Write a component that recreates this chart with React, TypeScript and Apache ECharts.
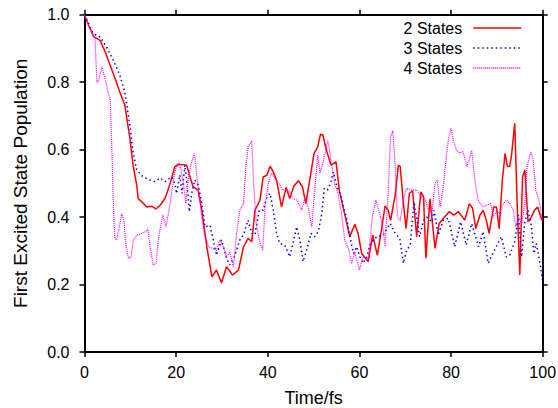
import React, { useEffect, useRef } from "react";
import * as echarts from "echarts";

const seriesNames = ["2 States", "3 States", "4 States"];
const seriesColors = ["#ff0000", "#0000ff", "#ff00ff"];

const t2 = [0, 1, 2, 3.4, 4.5, 5.6, 6.7, 7.7, 8.8, 9.9, 10.6, 11.4, 11.7, 12.5, 13.6, 14.7, 15.6, 16.5, 17.6, 18.7, 19.7, 20.5, 22.3, 23.0, 23.7, 24.8, 25.6, 26.7, 27.8, 28.8, 29.9, 31.0, 32.3, 33.6, 34.7, 35.7, 36.5, 37.2, 38.3, 39.0, 39.8, 40.5, 41.2, 41.9, 43.0, 44.0, 44.8, 45.7, 46.7, 47.6, 48.3, 49.2, 50.1, 50.9, 51.5, 52.0, 52.8, 53.8, 54.9, 55.6, 56.6, 57.9, 59.0, 59.7, 60.5, 61.9, 62.9, 63.9, 64.8, 65.6, 66.3, 66.8, 67.8, 68.5, 68.9, 69.6, 70.2, 70.9, 71.6, 72.5, 73.4, 74.0, 74.5, 75.4, 76.5, 77.4, 78.3, 79.6, 80.6, 81.6, 83.0, 84.0, 84.7, 85.4, 86.3, 87.0, 87.7, 88.3, 89.3, 89.9, 90.5, 91.2, 91.8, 92.3, 92.8, 93.2, 93.9, 94.4, 95.0, 95.6, 96.1, 96.8, 97.5, 98.2, 98.9, 99.8, 100];
const p2 = [1.0, 0.965, 0.935, 0.924, 0.89, 0.85, 0.81, 0.771, 0.732, 0.634, 0.554, 0.495, 0.455, 0.445, 0.43, 0.432, 0.424, 0.435, 0.456, 0.5, 0.549, 0.557, 0.554, 0.52, 0.49, 0.48, 0.42, 0.312, 0.223, 0.243, 0.205, 0.253, 0.228, 0.243, 0.312, 0.337, 0.327, 0.42, 0.45, 0.519, 0.524, 0.551, 0.534, 0.51, 0.43, 0.488, 0.455, 0.492, 0.508, 0.488, 0.44, 0.514, 0.589, 0.608, 0.646, 0.644, 0.598, 0.554, 0.564, 0.48, 0.42, 0.342, 0.379, 0.352, 0.292, 0.268, 0.347, 0.287, 0.361, 0.433, 0.42, 0.39, 0.465, 0.554, 0.55, 0.44, 0.366, 0.47, 0.478, 0.342, 0.475, 0.46, 0.278, 0.454, 0.307, 0.381, 0.396, 0.416, 0.406, 0.416, 0.391, 0.44, 0.426, 0.366, 0.406, 0.42, 0.39, 0.352, 0.43, 0.43, 0.366, 0.51, 0.589, 0.55, 0.55, 0.584, 0.678, 0.45, 0.228, 0.519, 0.54, 0.386, 0.4, 0.42, 0.43, 0.391, 0.4];

const t3 = [0, 1.9, 3.4, 4.8, 6.3, 7.7, 8.8, 9.9, 10.6, 11.4, 12.8, 14.3, 15.4, 16.5, 17.6, 19.0, 19.7, 20.1, 20.8, 21.3, 21.9, 22.3, 22.9, 23.4, 24.1, 24.8, 25.6, 26.3, 27.4, 28.1, 28.8, 29.9, 31.0, 31.7, 32.7, 33.9, 34.7, 35.7, 36.5, 37.2, 38.1, 39.0, 39.8, 40.5, 41.2, 41.9, 42.6, 43.7, 44.8, 45.5, 46.3, 47.0, 47.7, 48.6, 49.4, 50.3, 51.0, 51.8, 52.3, 53.0, 53.7, 54.3, 55.1, 55.9, 56.5, 57.2, 58.0, 58.7, 59.4, 60.1, 60.8, 61.6, 62.4, 63.8, 65.2, 66.7, 67.8, 68.8, 69.6, 70.3, 71.1, 71.9, 72.5, 73.1, 74.0, 74.7, 75.8, 76.3, 77.2, 78.3, 79.4, 80.8, 82.1, 83.3, 84.5, 86.0, 87.0, 88.1, 89.3, 91.0, 92.0, 92.8, 93.9, 94.7, 95.4, 96.1, 96.8, 97.5, 98.1, 98.6, 99.4, 100];
const p3 = [1.0, 0.944, 0.934, 0.905, 0.865, 0.821, 0.771, 0.673, 0.593, 0.539, 0.519, 0.51, 0.505, 0.516, 0.505, 0.519, 0.5, 0.47, 0.525, 0.47, 0.554, 0.51, 0.416, 0.47, 0.51, 0.495, 0.44, 0.371, 0.376, 0.332, 0.287, 0.332, 0.278, 0.258, 0.282, 0.332, 0.347, 0.391, 0.352, 0.347, 0.42, 0.42, 0.46, 0.47, 0.42, 0.352, 0.322, 0.317, 0.282, 0.322, 0.371, 0.332, 0.268, 0.307, 0.352, 0.342, 0.357, 0.41, 0.485, 0.48, 0.5, 0.534, 0.49, 0.465, 0.43, 0.396, 0.337, 0.292, 0.312, 0.282, 0.263, 0.282, 0.322, 0.342, 0.347, 0.381, 0.352, 0.337, 0.263, 0.302, 0.317, 0.445, 0.4, 0.342, 0.39, 0.4, 0.386, 0.42, 0.347, 0.391, 0.396, 0.312, 0.386, 0.317, 0.381, 0.312, 0.357, 0.263, 0.297, 0.342, 0.282, 0.287, 0.327, 0.406, 0.282, 0.386, 0.42, 0.376, 0.292, 0.322, 0.263, 0.208];

const t4 = [0, 1, 2.3, 2.7, 3.0, 3.8, 4.5, 5.2, 5.6, 5.9, 6.3, 6.6, 7.0, 7.6, 8.1, 8.6, 9.0, 9.6, 10.1, 10.7, 11.4, 12.5, 13.4, 13.8, 14.3, 15.0, 15.6, 16.2, 17.1, 17.8, 18.3, 19.0, 19.6, 20.1, 20.8, 21.5, 22.1, 22.6, 23.2, 24.0, 24.3, 24.8, 25.6, 26.1, 27.1, 28.0, 28.8, 29.5, 30.3, 31.0, 31.7, 32.5, 33.2, 33.9, 34.7, 35.2, 35.7, 36.5, 36.9, 37.5, 38.1, 38.9, 39.4, 40.1, 40.8, 41.6, 42.4, 43.3, 44.5, 45.5, 46.4, 47.4, 48.1, 48.8, 49.6, 50.3, 50.9, 51.4, 52.1, 53.1, 53.9, 54.6, 55.3, 56.1, 56.8, 57.6, 58.3, 59.0, 60.0, 60.8, 61.9, 62.2, 62.8, 63.6, 64.5, 65.2, 65.6, 66.3, 66.8, 67.3, 67.8, 68.3, 68.9, 69.6, 70.3, 71.4, 72.5, 73.5, 74.3, 75.1, 75.8, 76.5, 77.0, 77.6, 78.3, 78.9, 79.4, 80.0, 80.5, 81.2, 81.9, 82.6, 83.5, 84.5, 85.2, 85.9, 86.9, 87.7, 88.6, 89.3, 90.0, 90.6, 91.4, 92.1, 92.8, 93.6, 94.1, 94.7, 95.4, 96.1, 96.6, 97.4, 97.9, 98.5, 99.2, 99.8];
const p4 = [1.0, 0.965, 0.93, 0.8, 0.8, 0.845, 0.81, 0.766, 0.75, 0.634, 0.435, 0.34, 0.332, 0.37, 0.41, 0.39, 0.32, 0.278, 0.28, 0.332, 0.347, 0.352, 0.357, 0.365, 0.312, 0.258, 0.263, 0.342, 0.406, 0.371, 0.41, 0.47, 0.53, 0.55, 0.554, 0.51, 0.44, 0.51, 0.554, 0.589, 0.55, 0.49, 0.4, 0.352, 0.312, 0.307, 0.3, 0.332, 0.312, 0.282, 0.297, 0.253, 0.352, 0.42, 0.44, 0.549, 0.608, 0.626, 0.5, 0.38, 0.332, 0.302, 0.43, 0.5, 0.53, 0.514, 0.5, 0.48, 0.48, 0.455, 0.45, 0.42, 0.46, 0.43, 0.371, 0.49, 0.584, 0.53, 0.564, 0.628, 0.56, 0.5, 0.47, 0.41, 0.33, 0.307, 0.263, 0.297, 0.243, 0.282, 0.277, 0.31, 0.4, 0.45, 0.406, 0.361, 0.312, 0.48, 0.638, 0.656, 0.55, 0.4, 0.39, 0.45, 0.485, 0.48, 0.48, 0.46, 0.455, 0.42, 0.41, 0.5, 0.51, 0.43, 0.49, 0.569, 0.628, 0.663, 0.628, 0.598, 0.59, 0.594, 0.549, 0.598, 0.51, 0.45, 0.43, 0.435, 0.44, 0.4, 0.42, 0.41, 0.44, 0.45, 0.44, 0.42, 0.37, 0.4, 0.38, 0.44, 0.55, 0.593, 0.57, 0.48, 0.45, 0.4];

const xTicks = [0, 20, 40, 60, 80, 100];
const yTicks = [0, 0.2, 0.4, 0.6, 0.8, 1.0];

const zip = (t: number[], p: number[]) => t.map((x, i) => [x, p[i]]);

const FONT = "Liberation Sans, Arial, sans-serif";

export default function App() {
  const ref = useRef<HTMLDivElement>(null);
  useEffect(() => {
    if (!ref.current) return;
    const chart = echarts.init(ref.current, null, { renderer: "svg" });
    const axisLine = { show: true, onZero: false, lineStyle: { color: "#000", width: 2 } };
    const axisTick = { show: true, inside: false, length: 5, lineStyle: { color: "#000", width: 1.5 } };
    const legendLines = [
      { color: seriesColors[0], width: 1.5, type: "solid" },
      { color: seriesColors[1], width: 1.5, type: [1.5, 3] },
      { color: seriesColors[2], width: 1.5, type: [1, 1] },
    ];
    chart.setOption({
      animation: false,
      backgroundColor: "#fff",
      textStyle: { fontFamily: FONT },
      grid: {
        left: 84.5,
        right: 15.3,
        top: 14.7,
        bottom: 56,
        containLabel: false,
        outerBoundsMode: "none",
      },
      legend: {
        orient: "vertical",
        right: 31,
        top: 15,
        align: "right",
        itemWidth: 48,
        itemHeight: 14,
        itemGap: 4,
        data: seriesNames.map((name, i) => ({
          name,
          itemStyle: { opacity: 0 },
          lineStyle: legendLines[i],
        })),
        textStyle: { fontSize: 16, color: "#000", fontFamily: FONT, padding: [0, 6, 0, 0] },
      },
      xAxis: [
        {
          type: "value",
          min: xTicks[0],
          max: xTicks[xTicks.length - 1],
          interval: 20,
          name: "Time/fs",
          nameLocation: "middle",
          nameGap: 37,
          nameTextStyle: { fontSize: 18, color: "#000", fontFamily: FONT },
          axisLine,
          axisTick,
          splitLine: { show: false },
          axisLabel: { fontSize: 16, color: "#000", margin: 12, fontFamily: FONT },
        },
        {
          type: "value",
          position: "top",
          min: xTicks[0],
          max: xTicks[xTicks.length - 1],
          interval: 20,
          axisLine,
          axisTick,
          splitLine: { show: false },
          axisLabel: { show: false },
        },
      ],
      yAxis: [
        {
          type: "value",
          min: yTicks[0],
          max: yTicks[yTicks.length - 1],
          interval: 0.2,
          name: "First Excited State Population",
          nameLocation: "middle",
          nameGap: 55,
          nameTextStyle: { fontSize: 19, color: "#000", fontFamily: FONT },
          axisLine,
          axisTick,
          splitLine: { show: false },
          axisLabel: {
            fontSize: 16,
            color: "#000",
            margin: 15,
            fontFamily: FONT,
            formatter: (v: number) => v.toFixed(1),
          },
        },
        {
          type: "value",
          position: "right",
          min: yTicks[0],
          max: yTicks[yTicks.length - 1],
          interval: 0.2,
          axisLine,
          axisTick,
          splitLine: { show: false },
          axisLabel: { show: false },
        },
      ],
      series: [
        {
          name: seriesNames[0],
          type: "line",
          data: zip(t2, p2),
          symbol: "none",
          lineStyle: { color: seriesColors[0], width: 1.5, type: "solid" },
          itemStyle: { color: seriesColors[0] },
          z: 3,
        },
        {
          name: seriesNames[1],
          type: "line",
          data: zip(t3, p3),
          symbol: "none",
          lineStyle: { color: seriesColors[1], width: 1.5, type: [1.5, 3] },
          itemStyle: { color: seriesColors[1] },
          z: 4,
        },
        {
          name: seriesNames[2],
          type: "line",
          data: zip(t4, p4),
          symbol: "none",
          lineStyle: { color: seriesColors[2], width: 1.2, type: [1, 1] },
          itemStyle: { color: seriesColors[2] },
          z: 5,
        },
      ],
    });
    return () => chart.dispose();
  }, []);
  return <div ref={ref} style={{ width: 558, height: 408, position: "absolute", left: 0, top: 0 }} />;
}
